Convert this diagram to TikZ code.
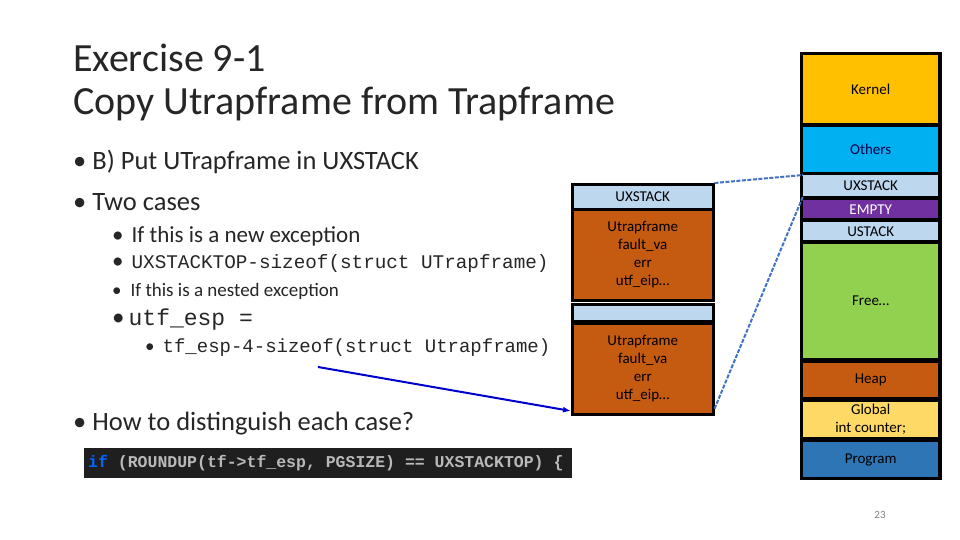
\documentclass[tikz,border=0pt]{standalone}
\usepackage{fontspec}
\setmainfont{Carlito}
\setmonofont{Liberation Mono}
\usetikzlibrary{arrows.meta}
\definecolor{rust}{RGB}{197,90,17}
\definecolor{lblue}{RGB}{189,215,238}
\definecolor{dblue}{RGB}{68,114,196}
\begin{document}
\begin{tikzpicture}[x=1pt,y=-1pt,
 blk/.style={draw=black,line width=2.5pt,inner sep=0pt,font=\fontsize{15}{18}\selectfont,align=center},
 txt/.style={anchor=west,inner sep=0pt,text=black!85},
 dashln/.style={draw=dblue,dashed,dash pattern=on 4pt off 1.5pt,line width=2pt}]
\useasboundingbox[fill=white] (0,0) rectangle (960,540);
\node[txt,font=\fontsize{40}{44}\selectfont] (t1) at (73,58) {Exercise 9-1};
\node[txt,font=\fontsize{40}{44}\selectfont] (t2) at (73,104) {Copy Utrapframe from Trapframe};
\node[txt,font=\fontsize{26.5}{30}\selectfont] (b1) at (73,162) {• B) Put UTrapframe in UXSTACK};
\node[txt,font=\fontsize{26.5}{30}\selectfont] (b2) at (73,202) {• Two cases};
\node[txt,font=\fontsize{23}{26}\selectfont] (c1) at (112,236) {•\hspace{8pt}If this is a new exception};
\node[txt,font=\fontsize{23}{26}\selectfont] (c2) at (112,264) {•\hspace{8pt}\ttfamily\fontsize{19.3}{20}\selectfont UXSTACKTOP-sizeof(struct UTrapframe)};
\node[txt,font=\fontsize{19}{22}\selectfont] (c3) at (112,291) {•\hspace{9pt}If this is a nested exception};
\node[txt,font=\fontsize{25}{28}\selectfont] (c4) at (112,320) {•\hspace{4pt}\ttfamily\fontsize{23}{24}\selectfont utf\_esp =};
\node[txt,font=\fontsize{19}{22}\selectfont] (d1) at (145,348) {•\hspace{8pt}\ttfamily\fontsize{19}{20}\selectfont tf\_esp-4-sizeof(struct Utrapframe)};
\node[txt,font=\fontsize{26.5}{30}\selectfont] (b3) at (73,424) {• How to distinguish each case?};
\fill[black!88] (84,448) rectangle (572,478);
\node[anchor=west,inner sep=0pt,font=\ttfamily\bfseries\fontsize{16.5}{18}\selectfont,text=gray!55] (code) at (88,463) {\textcolor{blue!60!cyan}{if} (ROUNDUP(tf->tf\_esp, PGSIZE) == UXSTACKTOP) \{};
% middle stack
\node[blk,fill=lblue,minimum width=141,minimum height=25,anchor=north west] (ux) at (571,183) {\raisebox{-6pt}{UXSTACK}};
\node[blk,fill=rust,minimum width=141,minimum height=91,anchor=north west] (u1) at (571,208) {Utrapframe\\fault\_va\\err\\utf\_eip…};
\node[blk,fill=lblue,minimum width=141,minimum height=17,anchor=north west] (gap) at (571,303) {};
\node[blk,fill=rust,minimum width=141,minimum height=91,anchor=north west] (u2) at (571,322) {Utrapframe\\fault\_va\\err\\utf\_eip…};
% right column
\fill[black] (800,52) rectangle (942,480);
\tikzset{seg/.style={inner sep=0pt,minimum width=135,anchor=north west,font=\fontsize{15}{18}\selectfont,align=center,text=black}}
\node[seg,fill={rgb,255:red,255;green,192;blue,0},minimum height=68] (k) at (803,55) {Kernel};
\node[seg,fill={rgb,255:red,0;green,176;blue,240},minimum height=45,text=blue!30!black] (o) at (803,127) {Others};
\node[seg,fill=lblue,minimum height=21] (uxs) at (803,175) {UXSTACK};
\node[seg,fill={rgb,255:red,112;green,48;blue,160},minimum height=18,text=white] (em) at (803,200) {EMPTY};
\node[seg,fill=lblue,minimum height=18] (us) at (803,222) {USTACK};
\node[seg,fill={rgb,255:red,146;green,208;blue,80},minimum height=114] (fr) at (803,244) {Free…};
\node[seg,fill=rust,minimum height=34] (hp) at (803,363) {Heap};
\node[seg,fill={rgb,255:red,255;green,217;blue,102},minimum height=35] (gl) at (803,402) {Global\\int counter;};
\node[seg,fill={rgb,255:red,46;green,117;blue,182},minimum height=35] (pg) at (803,442) {Program};
\node[font=\fontsize{11}{13}\selectfont,text=gray] (pn) at (880,515) {23};
% connectors
\draw[dashln] (ux.north east) -- (uxs.north west);
\draw[dashln] (u2.east) ++(0,40) coordinate (e2) -- (uxs.south west);
\coordinate (as) at (318,367);
\draw[blue!80!black,line width=2pt,-{Latex[length=8pt]}] (as) -- (u2.south west |- 0,411);
\end{tikzpicture}
\end{document}
